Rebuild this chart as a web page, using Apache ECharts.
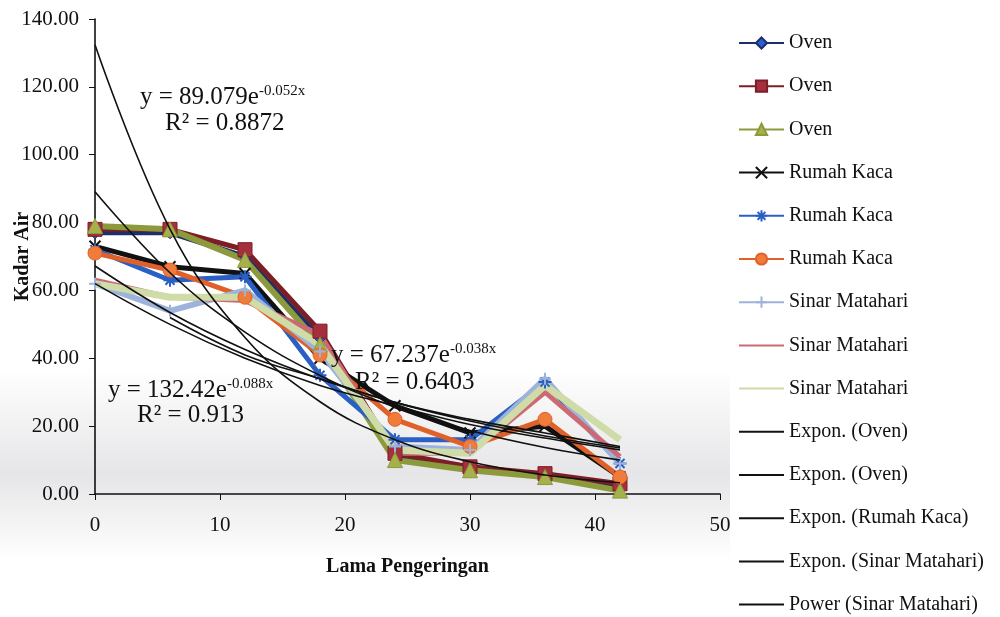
<!DOCTYPE html>
<html>
<head>
<meta charset="utf-8">
<title>Kadar Air</title>
<script src="https://cdn.jsdelivr.net/npm/echarts@6/dist/echarts.min.js"></script>
<style>
  html, body { margin: 0; padding: 0; background: #fff; }
  #chart { width: 1000px; height: 617px; }
</style>
</head>
<body>
<div id="chart"></div>
<script>
// lama pengeringan (jam)
var waktu = [0, 6, 12, 18, 24, 30, 36, 42];

// kadar air tiap ulangan
var oven1 = [77, 77, 70, 46, 11, 8, 5, 2];
var oven2 = [78, 78, 72, 48, 12, 8, 6, 3];
var oven3 = [79, 78, 69, 44, 10, 7, 5, 1];
var rumahKaca1 = [73, 67, 65, 40, 26, 18, 20, 5];
var rumahKaca2 = [72, 63, 64, 35, 16, 16, 33, 9];
var rumahKaca3 = [71, 66, 58, 41, 22, 14, 22, 5];
var sinar1 = [62, 54, 60, 42, 14, 13, 34, 9];
var sinar2 = [63, 58, 57, 47, 12, 12, 30, 11];
var sinar3 = [62, 58, 58, 44, 13, 12, 32, 16];

// garis trend
var trendOven1 = [132.4, 78.1, 46.1, 27.2, 16.0, 9.5, 5.6, 3.3];
var trendOven2 = [89.1, 65.2, 47.7, 34.9, 25.6, 18.7, 13.7, 10.0];
var trendRumahKaca = [67.2, 53.5, 42.6, 33.9, 27.0, 21.5, 17.1, 13.6];
var trendSinar = [62, 50, 40, 32, 26, 20.5, 16.5, 13];
var powerX = [6, 12, 18, 24, 30, 36, 42];
var powerSinar = [52, 41, 34, 27, 22, 18, 14];

var serif = 'Liberation Serif';

function pasang(xv, yv) {
    return xv.map(function (x, i) { return [x, yv[i]]; });
}

var silang = 'path://M0,0L10,10M10,0L0,10';
var bintang = 'path://M5,0L5,10M0,5L10,5M1.5,1.5L8.5,8.5M8.5,1.5L1.5,8.5';
var plus = 'path://M5,0L5,10M0,5L10,5';

function dataLine(name, values, color, symbol, symColor, size, width) {
    return {
        name: name,
        type: 'line',
        data: pasang(waktu, values),
        symbol: symbol,
        symbolSize: size,
        lineStyle: { color: color, width: width },
        itemStyle: { color: symColor, borderColor: color, borderWidth: symbol.indexOf('path') === 0 ? 2 : 1 },
        z: 2
    };
}

function trendLine(name, xv, values) {
    return {
        name: name,
        type: 'line',
        data: pasang(xv, values),
        smooth: 0.4,
        symbol: 'none',
        lineStyle: { color: '#111', width: 1.6 },
        itemStyle: { color: '#111' },
        z: 5
    };
}

// legenda tanpa penanda
function tanpaTanda(name) {
    return { name: name, itemStyle: { color: 'rgba(0,0,0,0)', borderWidth: 0 } };
}

function persamaan(teks, pangkat, left, top) {
    return {
        type: 'text', left: left, top: top, z: 20,
        style: {
            text: '{b|' + teks + '}{s|' + pangkat + '}',
            rich: {
                b: { fontFamily: serif, fontSize: 25, fill: '#111' },
                s: { fontFamily: serif, fontSize: 15, fill: '#111', verticalAlign: 'top', padding: [0, 0, 12, 0] }
            }
        }
    };
}

function teksR(teks, left, top) {
    return {
        type: 'text', left: left, top: top, z: 20,
        style: { text: teks, fontFamily: serif, fontSize: 25, fill: '#111' }
    };
}

var chart = echarts.init(document.getElementById('chart'));

chart.setOption({
    backgroundColor: '#fff',
    animation: false,
    textStyle: { fontFamily: serif },
    grid: { left: 95, top: 19, right: 280, bottom: 123, containLabel: false, outerBoundsMode: 'none' },
    xAxis: {
        type: 'value',
        min: 0,
        max: 50,
        interval: 10,
        name: 'Lama Pengeringan',
        nameLocation: 'middle',
        nameGap: 63,
        nameTextStyle: { fontFamily: serif, fontSize: 20, fontWeight: 'bold', color: '#111' },
        axisLine: { lineStyle: { color: '#111', width: 1.6 } },
        axisTick: { show: true, length: 6, lineStyle: { color: '#111' } },
        axisLabel: { fontFamily: serif, fontSize: 21, color: '#111', margin: 21 },
        splitLine: { show: false }
    },
    yAxis: {
        type: 'value',
        min: 0,
        max: 140,
        interval: 20,
        name: 'Kadar Air',
        nameLocation: 'middle',
        nameGap: 62,
        nameMoveOverlap: false,
        nameTextStyle: { fontFamily: serif, fontSize: 20, fontWeight: 'bold', color: '#111' },
        axisLine: { show: true, lineStyle: { color: '#111', width: 1.6 } },
        axisTick: { show: true, length: 6, lineStyle: { color: '#111' } },
        axisLabel: {
            fontFamily: serif, fontSize: 21, color: '#111', margin: 16,
            formatter: function (v) { return v.toFixed(2); }
        },
        splitLine: { show: false }
    },
    legend: {
        orient: 'vertical',
        left: 738,
        top: 33,
        padding: 0,
        itemWidth: 45,
        itemHeight: 14,
        itemGap: 23.2,
        textStyle: { fontFamily: serif, fontSize: 20, color: '#111' },
        data: ['Oven', 'Oven ', 'Oven  ', 'Rumah Kaca', 'Rumah Kaca ', 'Rumah Kaca  ',
            'Sinar Matahari', tanpaTanda('Sinar Matahari '), tanpaTanda('Sinar Matahari  '),
            tanpaTanda('Expon. (Oven)'), tanpaTanda('Expon. (Oven) '), tanpaTanda('Expon. (Rumah Kaca)'),
            tanpaTanda('Expon. (Sinar Matahari)'), tanpaTanda('Power (Sinar Matahari)')]
    },
    graphic: [
        {
            type: 'rect', silent: true, z: -10,
            shape: { x: 0, y: 370, width: 730, height: 190 },
            style: {
                fill: new echarts.graphic.LinearGradient(0, 0, 0, 1, [
                    { offset: 0, color: 'rgba(140,135,145,0)' },
                    { offset: 0.55, color: 'rgba(140,135,145,0.22)' },
                    { offset: 1, color: 'rgba(140,135,145,0)' }
                ])
            }
        },
        persamaan('y = 89.079e', '-0.052x', 140, 84),
        teksR('R² = 0.8872', 165, 111),
        persamaan('y = 67.237e', '-0.038x', 331, 342),
        teksR('R² = 0.6403', 355, 370),
        persamaan('y = 132.42e', '-0.088x', 108, 377),
        teksR('R² = 0.913', 137, 403)
    ],
    series: [
        dataLine('Oven', oven1, '#1d2f6b', 'diamond', '#2b5fd0', 12, 5),
        dataLine('Oven ', oven2, '#7c1e26', 'rect', '#a3303c', 14, 5),
        dataLine('Oven  ', oven3, '#8c9a3c', 'triangle', '#a7b14c', 15, 6),
        dataLine('Rumah Kaca', rumahKaca1, '#111111', silang, '#111111', 11, 5),
        dataLine('Rumah Kaca ', rumahKaca2, '#2a5fc4', bintang, '#6aa8ea', 13, 5),
        dataLine('Rumah Kaca  ', rumahKaca3, '#e0602a', 'circle', '#f07c3c', 14, 5),
        dataLine('Sinar Matahari', sinar1, '#9cb4dc', plus, '#6f8fd0', 12, 6),
        dataLine('Sinar Matahari ', sinar2, '#cc6a74', 'none', '#cc6a74', 8, 5),
        dataLine('Sinar Matahari  ', sinar3, '#cfdca8', 'none', '#cfdca8', 8, 7),
        trendLine('Expon. (Oven)', waktu, trendOven1),
        trendLine('Expon. (Oven) ', waktu, trendOven2),
        trendLine('Expon. (Rumah Kaca)', waktu, trendRumahKaca),
        trendLine('Expon. (Sinar Matahari)', waktu, trendSinar),
        trendLine('Power (Sinar Matahari)', powerX, powerSinar)
    ]
});
</script>
</body>
</html>
